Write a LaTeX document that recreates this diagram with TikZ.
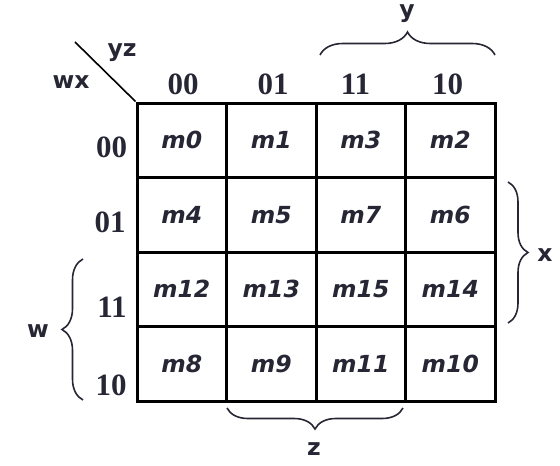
\documentclass[tikz,border=0pt]{standalone}
\usepackage{fontspec}
\setmainfont{Liberation Serif}
\newfontfamily\kfont{DejaVu Sans}
\usetikzlibrary{decorations.pathreplacing}
\definecolor{ink}{RGB}{38,38,52}

\begin{document}
\begin{tikzpicture}[x=1pt, y=-1pt,
        cell/.style={draw, line width=3pt, minimum width=89.5pt, minimum height=74.5pt,
                     inner sep=0pt, text=ink, font=\kfont\bfseries\itshape\fontsize{23.5}{23.5}\selectfont},
        head/.style={text=ink, inner sep=0pt, font=\bfseries\fontsize{31}{31}\selectfont},
        var/.style={text=ink, inner sep=0pt, font=\kfont\bfseries\fontsize{23.5}{23.5}\selectfont},
        brc/.style={draw=ink, line width=1.6pt, decorate, decoration={brace, amplitude=#1}}]
                    \useasboundingbox (0,0) rectangle (560,466);

                    % the sixteen cells
                    \node[cell] (m0)  at (181.75,140.25) {m0};
                    \node[cell] (m1)  at (271.25,140.25) {m1};
                    \node[cell] (m3)  at (360.75,140.25) {m3};
                    \node[cell] (m2)  at (450.25,140.25) {m2};

                    \node[cell] (m4)  at (181.75,214.75) {m4};
                    \node[cell] (m5)  at (271.25,214.75) {m5};
                    \node[cell] (m7)  at (360.75,214.75) {m7};
                    \node[cell] (m6)  at (450.25,214.75) {m6};

                    \node[cell] (m12) at (181.75,289.25) {m12};
                    \node[cell] (m13) at (271.25,289.25) {m13};
                    \node[cell] (m15) at (360.75,289.25) {m15};
                    \node[cell] (m14) at (450.25,289.25) {m14};

                    \node[cell] (m8)  at (181.75,363.75) {m8};
                    \node[cell] (m9)  at (271.25,363.75) {m9};
                    \node[cell] (m11) at (360.75,363.75) {m11};
                    \node[cell] (m10) at (450.25,363.75) {m10};

                    % column and row headings
                    \node[head] (c00) at (183,84.5) {00};
                    \node[head] (c01) at (273,84.5) {01};
                    \node[head] (c11) at (355.5,84.5) {11};
                    \node[head] (c10) at (447.5,84.5) {10};

                    \node[head] (r00) at (111.5,147) {00};
                    \node[head] (r01) at (110,222) {01};
                    \node[head] (r11) at (112,307) {11};
                    \node[head] (r10) at (111,385.5) {10};

                    % corner
                    \coordinate (D) at (75,42);
                    \draw[line width=1.6pt] (D) -- (m0.north west);
                    \node[var] (yz) at (122,52.5) {yz};
                    \node[var] (wx) at (71,82) {wx};

                    % braces
                    \coordinate (Y1) at (320,55);
                    \coordinate (Y2) at (495,55);
                    \draw[brc=23pt] (Y1) -- (Y2);
                    \node[var] (y) at (407,14) {y};

                    \coordinate (X1) at (508,182);
                    \coordinate (X2) at (508,323);
                    \draw[brc=20pt] (X1) -- (X2);
                    \node[var] (x) at (545,255) {x};

                    \coordinate (W1) at (83,400);
                    \coordinate (W2) at (83,259);
                    \draw[brc=21pt] (W1) -- (W2);
                    \node[var] (w) at (38,331) {w};

                    \coordinate (Z1) at (403,408);
                    \coordinate (Z2) at (227,408);
                    \draw[brc=21pt] (Z1) -- (Z2);
                    \node[var] (z) at (314,449.5) {z};

                \end{tikzpicture}
\end{document}
